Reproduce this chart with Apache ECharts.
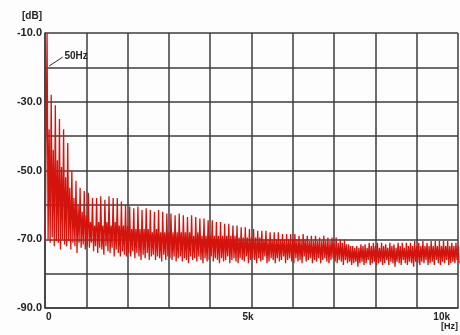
<!DOCTYPE html>
<html>
<head>
<meta charset="utf-8">
<script src="https://cdn.jsdelivr.net/npm/echarts@6/dist/echarts.min.js"></script>
<style>
  html, body { margin: 0; padding: 0; background: #fdfdfd; }
  #chart { width: 460px; height: 335px; }
</style>
</head>
<body>
<div id="chart"></div>
<script>
// harmonic spacing of the mains fundamental
const harmStepHz = 50;

// peak level of each harmonic, n = 1..200 (one row = 1 kHz)
const harmPeaks = [
  -10, -38, -28, -44, -31, -47, -35, -49, -38, -52, -42, -55, -50, -58, -53, -60, -55, -62, -56, -63,
  -56.5, -65, -58, -66, -58, -65, -57.5, -66, -58.5, -65, -57.5, -66, -58, -65, -58, -66, -59, -66, -60, -66,
  -60.5, -67, -61, -67, -60.5, -67, -61.5, -67, -61, -67, -61.5, -68, -62, -67, -61.5, -68, -62, -68, -62.5, -68,
  -62.5, -68, -63, -68, -62.5, -68, -63, -68, -63.5, -68, -63, -69, -63.5, -68, -64, -69, -64, -69, -64.5, -69,
  -64.5, -69, -65, -69, -65, -69, -65.5, -69, -65.5, -69, -66, -69, -66, -69.5, -66.5, -69.5, -66.5, -69.5, -67, -69.5,
  -67, -69.5, -67.5, -69.5, -67.5, -70, -67.5, -70, -68, -70, -68, -70, -68, -70, -68.5, -70, -68.5, -70, -68.5, -70,
  -68.5, -70, -69, -70, -68.5, -70, -69, -70.5, -69, -70.5, -69, -70.5, -69.5, -70.5, -69, -70.5, -69.5, -70.5, -69.5, -71,
  -69.5, -71, -70, -71, -70, -71.5, -71.5, -72, -72, -72.5, -72, -72.5, -71.5, -72, -71.5, -72.5, -71, -72, -71, -72,
  -71, -72.5, -71, -72, -71.5, -72.5, -71, -72, -71.5, -72.5, -71, -72, -71, -72.5, -71, -72, -71, -72, -70.5, -72,
  -71, -72, -70.5, -72, -71, -72, -70.5, -72, -70.5, -72, -70.5, -72, -70.5, -72, -70.5, -72, -71, -72, -71, -72
];

// noise floor level just after each harmonic
const floorLevels = [
  -70, -71, -69.5, -72, -70.5, -71, -73, -70, -71.5, -72, -70.5, -73, -71, -72, -74, -71, -72.5, -71.5, -73, -72,
  -72.5, -71, -73.5, -72, -74, -72.5, -73, -74.5, -72, -73.5, -74, -72.5, -75, -73, -74, -75, -73.5, -74.5, -75, -74,
  -75, -73.5, -75.5, -74, -75, -76, -74.5, -75.5, -74, -76, -75, -74.5, -76, -75, -75.5, -76.5, -74.5, -76, -75, -75.5,
  -76, -75, -76.5, -75.5, -75, -76.5, -75.5, -76, -77, -75, -76, -75.5, -76.5, -75, -76, -77, -75.5, -76.5, -76, -75,
  -76.5, -75.5, -76, -77, -75.5, -76.5, -76, -75, -77, -76, -75.5, -76.5, -77, -75.5, -76, -76.5, -75, -77, -76, -75.5,
  -76, -77, -75.5, -76.5, -76, -75, -77, -76.5, -75.5, -76, -77, -75.5, -76.5, -76, -75, -77, -76, -75.5, -76.5, -77,
  -75.5, -76.5, -76, -77, -75, -76.5, -76, -75.5, -77, -76, -76.5, -75.5, -77, -76, -75.5, -76.5, -77, -76, -75.5, -76.5,
  -77, -76, -76.5, -77.5, -76, -77, -76.5, -77.5, -77, -76.5, -78, -77, -76.5, -77.5, -77, -76, -77.5, -77, -76.5, -77.5,
  -77, -76.5, -77.5, -77, -76, -77.5, -76.5, -77, -78, -76.5, -77, -77.5, -76, -77, -77.5, -76.5, -77, -78, -76.5, -77,
  -77.5, -76.5, -77, -76, -77.5, -77, -76.5, -77.5, -76, -77, -77.5, -76.5, -77, -76, -77.5, -77, -76.5, -77, -76, -77
];

const startLevel = -71;

const xTickLabels = { 0: '0', 5000: '5k', 10000: '10k' };
const yTickLabels = [-10, -30, -50, -70, -90];

// interleave peaks and floor into [Hz, dB] pairs
const spectrum = [[5, startLevel]];
harmPeaks.forEach((p, i) => {
  const f = harmStepHz * (i + 1);
  spectrum.push([f, p]);
  spectrum.push([f + harmStepHz / 2, floorLevels[i]]);
});

const chart = echarts.init(document.getElementById('chart'));

const gridColor = '#3c3c3c';
const labelFont = { color: '#222', fontSize: 11, fontWeight: 'bold', fontFamily: 'Liberation Sans' };

chart.setOption({
  animation: false,
  backgroundColor: '#fdfdfd',
  grid: { left: 45, right: 2, top: 33, bottom: 27 },
  xAxis: {
    type: 'value',
    min: 0,
    max: 10000,
    interval: 1000,
    axisLine: { show: true, lineStyle: { color: gridColor, width: 1.5 } },
    axisTick: { show: false },
    splitLine: { show: true, lineStyle: { color: gridColor, width: 1.5 } },
    axisLabel: Object.assign({}, labelFont, {
      fontSize: 10,
      margin: 4,
      alignMinLabel: 'left',
      alignMaxLabel: 'right',
      padding: [0, 8, 0, 1],
      formatter: (v) => (xTickLabels[v] !== undefined ? xTickLabels[v] : '')
    })
  },
  yAxis: {
    type: 'value',
    min: -90,
    max: -10,
    interval: 10,
    axisLine: { show: true, lineStyle: { color: gridColor, width: 1.5 } },
    axisTick: { show: false },
    splitLine: { show: true, lineStyle: { color: gridColor, width: 1.5 } },
    axisLabel: Object.assign({}, labelFont, {
      margin: 3,
      formatter: (v) => (yTickLabels.includes(v) ? v.toFixed(1) : '')
    })
  },
  graphic: [
    { type: 'text', left: 22, top: 11, style: { text: '[dB]', fill: '#222', font: 'bold 10px Liberation Sans' } },
    { type: 'text', right: 2, top: 322, style: { text: '[Hz]', fill: '#222', font: 'bold 9px Liberation Sans' } }
  ],
  series: [{
    type: 'line',
    data: spectrum,
    showSymbol: false,
    sampling: false,
    lineStyle: { color: '#d4140c', width: 1.3 },
    markLine: {
      silent: true,
      symbol: 'none',
      lineStyle: { color: '#333', width: 1, type: 'solid' },
      label: {
        show: true,
        position: 'end',
        formatter: '50Hz',
        color: '#222',
        fontSize: 10,
        fontWeight: 'bold',
        fontFamily: 'Liberation Sans',
        distance: 2
      },
      data: [[{ coord: [100, -19.6] }, { coord: [430, -17] }]]
    }
  }]
});
</script>
</body>
</html>
